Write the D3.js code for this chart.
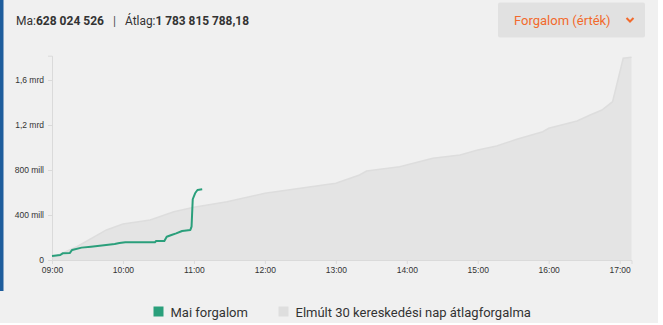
<!DOCTYPE html>
<html>
<head>
<meta charset="utf-8">
<script src="https://cdn.jsdelivr.net/npm/d3@7"></script>
<style>
  body { margin: 0; background: #ffffff; }
  svg text { font-family: Roboto, "Liberation Sans", Arial, sans-serif; }
</style>
</head>
<body>
<div id="chart"></div>
<script>
// mai forgalom (millió Ft, kumulált)
var todayTimes = ["09:00","09:07","09:09","09:15","09:17","09:25","09:33","09:53","09:57","10:02","10:27","10:28","10:35","10:37","10:41","10:45","10:50","10:57","10:58","10:59","11:01","11:03","11:07"];
var todayValues = [36,44,59,62,89,110,118,142,151,157,157,169,169,207,222,237,258,267,296,540,593,622,628];

// elmúlt 30 nap átlaga
var avgTimes = ["09:00","09:21","09:46","10:00","10:23","10:43","11:00","11:28","12:00","12:30","13:00","13:20","13:26","13:54","14:22","14:45","15:00","15:16","15:33","15:55","16:00","16:24","16:35","16:45","16:54","17:03","17:10"];
var avgValues = [20,118,267,320,356,429,468,518,593,637,682,756,791,829,904,933,978,1013,1073,1140,1171,1236,1289,1333,1407,1793,1802];

var yTicks = [0,400,800,1200,1600];
var yTickLabels = ["0","400 mill","800 mill","1,2 mrd","1,6 mrd"];
var xTicks = ["09:00","10:00","11:00","12:00","13:00","14:00","15:00","16:00","17:00"];
var legendLabels = ["Mai forgalom","Elmúlt 30 kereskedési nap átlagforgalma"];

var width = 663, height = 325;
var lineColor = "#2a9f7b";
var areaColor = "#e4e4e4";
var axisColor = "#dadada";
var textColor = "#333333";

var parseTime = d3.timeParse("%H:%M");

var svg = d3.select("#chart").append("svg")
    .attr("width", width)
    .attr("height", height);

svg.append("rect").attr("x",0).attr("y",0).attr("width",658).attr("height",323).attr("fill","#f0f0f0");
svg.append("rect").attr("x",0).attr("y",0).attr("width",3.5).attr("height",291).attr("fill","#1e5d9c");

// header
var head = svg.append("text").attr("x",16).attr("y",24.5)
    .attr("font-size",12.5).attr("fill",textColor)
    .attr("textLength",88).attr("lengthAdjust","spacingAndGlyphs");
head.append("tspan").text("Ma:");
head.append("tspan").attr("font-weight","bold").text("628 024 526");
svg.append("text").attr("x",113).attr("y",24.5).attr("font-size",12.5).attr("fill","#555").text("|");
var head2 = svg.append("text").attr("x",125).attr("y",24.5)
    .attr("font-size",12.5).attr("fill",textColor)
    .attr("textLength",124).attr("lengthAdjust","spacingAndGlyphs");
head2.append("tspan").text("Átlag:");
head2.append("tspan").attr("font-weight","bold").text("1 783 815 788,18");

svg.append("rect").attr("x",498).attr("y",2.5).attr("width",147).attr("height",35)
    .attr("rx",2).attr("fill","#e1e1e1");
svg.append("text").attr("x",514).attr("y",25).attr("font-size",13)
    .attr("fill","#f26a2c").text("Forgalom (érték)");
svg.append("path").attr("d","M626.5,18 L630,21.5 L633.5,18")
    .attr("fill","none").attr("stroke","#f26a2c").attr("stroke-width",2);

// scales
var x = d3.scaleTime()
    .domain([parseTime("09:00"), parseTime("17:10")])
    .range([52, 631.5]);
var y = d3.scaleLinear()
    .domain([0, 1816])
    .range([260, 55.7]);

var avgData = avgTimes.map(function(t,i){ return {t: parseTime(t), v: avgValues[i]}; });
var todayData = todayTimes.map(function(t,i){ return {t: parseTime(t), v: todayValues[i]}; });

var area = d3.area()
    .x(function(d){ return x(d.t); })
    .y0(y(0))
    .y1(function(d){ return y(d.v); });
var areaTop = d3.line()
    .x(function(d){ return x(d.t); })
    .y(function(d){ return y(d.v); });

svg.append("path").datum(avgData).attr("d",area).attr("fill",areaColor);
svg.append("path").datum(avgData).attr("d",areaTop)
    .attr("fill","none").attr("stroke","#dddddd").attr("stroke-width",1.5);

// axes
var yAxis = d3.axisLeft(y)
    .tickValues(yTicks)
    .tickSize(4)
    .tickPadding(4)
    .tickFormat(function(d,i){ return yTickLabels[i]; });
var gy = svg.append("g").attr("transform","translate(52,0)").call(yAxis);

var xAxis = d3.axisBottom(x)
    .tickValues(xTicks.map(parseTime))
    .tickSize(4)
    .tickPadding(3)
    .tickFormat(d3.timeFormat("%H:%M"));
var gx = svg.append("g").attr("transform","translate(0,260)").call(xAxis);

[gy, gx].forEach(function(g){
    g.selectAll("path").attr("stroke",axisColor);
    g.selectAll("line").attr("stroke",axisColor);
    g.selectAll("text").attr("fill",textColor)
        .style("font-family","Arial, 'Liberation Sans', sans-serif")
        .attr("font-size",8.5);
});

var line = d3.line()
    .x(function(d){ return x(d.t); })
    .y(function(d){ return y(d.v); });
svg.append("path").datum(todayData).attr("d",line)
    .attr("fill","none").attr("stroke",lineColor).attr("stroke-width",2)
    .attr("stroke-linejoin","round");

// legend
var legend = svg.append("g");
var legX = [153.5, 278.5];
var legCol = [lineColor, "#dedede"];
legendLabels.forEach(function(lbl,i){
    legend.append("rect").attr("x",legX[i]).attr("y",306.5).attr("width",10).attr("height",10).attr("fill",legCol[i]);
    legend.append("text").attr("x",legX[i]+17).attr("y",316.5).attr("font-size",13)
        .attr("fill",textColor).text(lbl);
});
</script>
</body>
</html>
